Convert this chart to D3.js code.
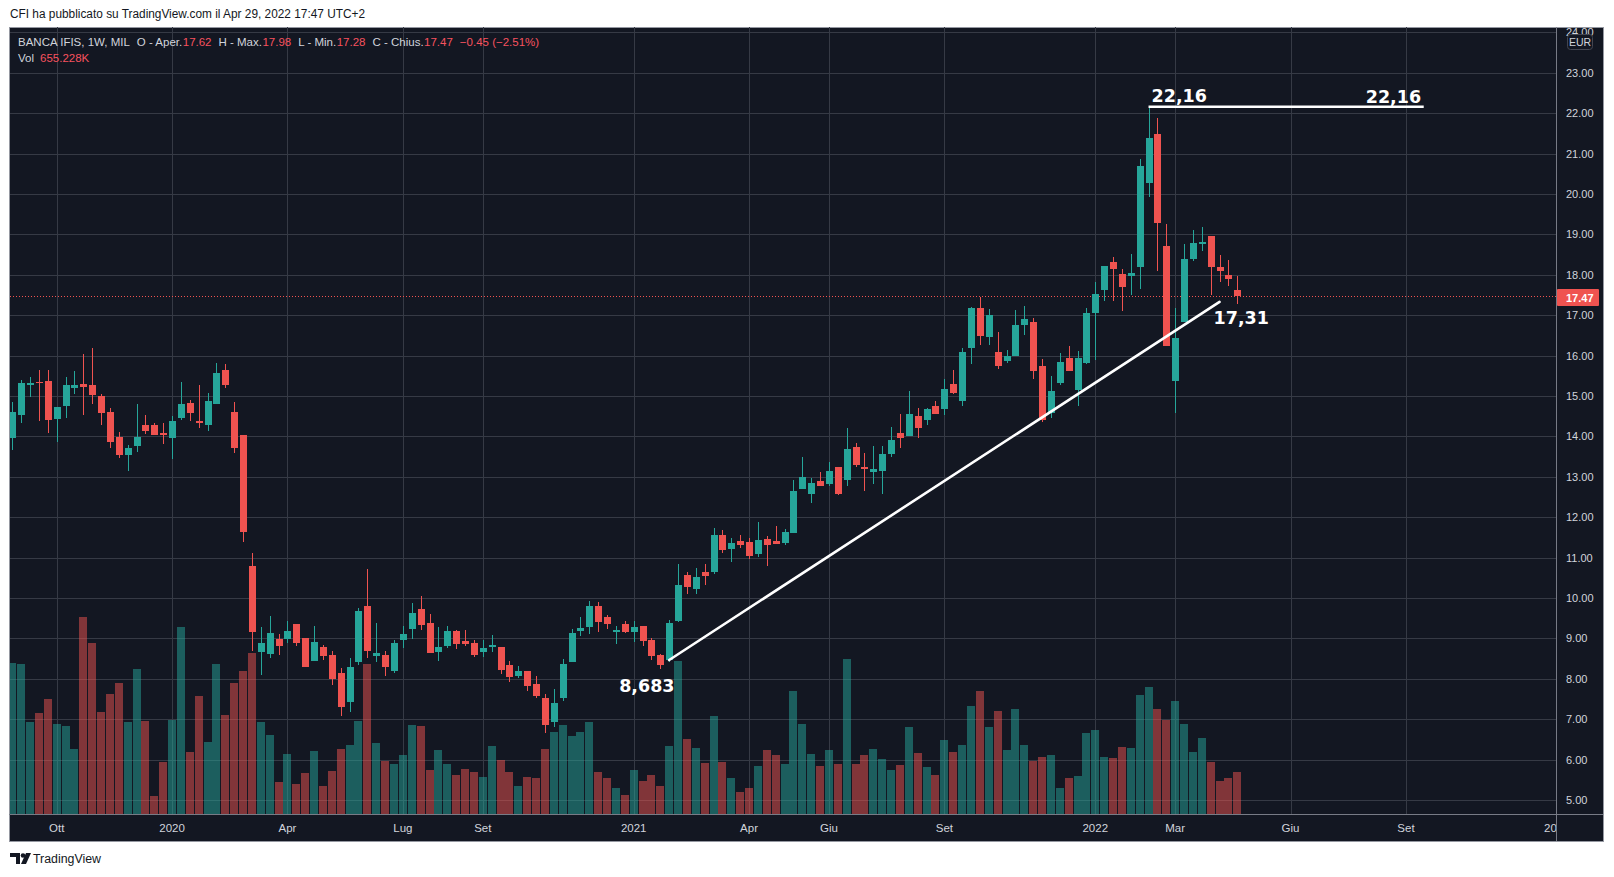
<!DOCTYPE html>
<html>
<head>
<meta charset="utf-8">
<script src="https://cdn.jsdelivr.net/npm/d3@7"></script>
<style>
  body { margin: 0; background: #ffffff; }
  svg { display: block; }
</style>
</head>
<body>
<script>
// weekly candles, BANCA IFIS (MIL), Sep 2019 -> Apr 2022
const openP = [13.97,14.54,15.26,15.35,15.37,14.44,14.76,15.21,15.30,15.27,
  15.00,14.60,13.99,13.55,13.77,14.28,14.28,14.08,13.97,14.46,
  14.83,14.38,14.27,14.79,15.64,14.60,14.03,10.79,8.67,8.62,
  8.99,8.99,9.36,9.01,8.45,8.79,8.59,8.14,7.43,8.42,
  9.80,8.57,8.59,8.20,8.96,9.23,9.73,9.38,8.66,8.81,
  9.18,8.94,8.89,8.66,8.79,8.79,8.34,8.07,8.19,7.87,
  7.53,6.93,7.53,8.42,9.18,9.28,9.80,9.53,9.16,9.36,
  9.16,9.31,8.96,8.59,8.47,9.44,10.57,10.23,10.64,10.65,
  11.56,11.22,11.41,11.39,11.10,11.46,11.41,11.37,11.62,12.71,
  12.58,12.90,12.83,13.24,12.93,13.74,13.24,13.13,13.15,13.57,
  14.08,14.02,14.51,14.41,14.75,14.69,15.30,14.88,16.20,17.18,
  16.47,16.09,15.87,16.00,16.76,16.83,15.74,14.57,15.33,15.94,
  15.16,15.82,17.06,17.63,18.32,18.02,17.98,18.20,20.28,21.49,
  18.71,15.38,16.84,18.40,18.77,18.96,18.19,17.99,17.62]

const highP = [14.85,15.40,15.47,15.64,15.64,14.73,15.47,15.62,16.04,16.19,
  15.05,14.70,14.11,13.79,14.80,14.53,14.33,14.33,14.50,15.35,
  14.90,15.27,15.07,15.82,15.79,14.85,14.03,11.11,9.28,9.55,
  9.11,9.43,9.36,9.01,9.31,8.84,8.69,8.27,8.51,9.75,
  10.72,9.38,8.69,8.96,9.31,9.88,10.05,9.60,9.28,9.31,
  9.21,9.21,8.96,8.96,9.09,8.79,8.44,8.32,8.19,8.07,
  7.62,7.75,8.49,9.23,9.53,9.93,9.90,9.58,9.31,9.43,
  9.43,9.31,9.01,8.61,9.45,10.84,10.64,10.74,10.84,11.73,
  11.68,11.49,11.56,11.49,11.88,11.53,11.78,11.71,12.92,13.49,
  12.97,13.12,13.37,13.24,14.21,13.84,13.59,13.76,13.76,14.23,
  14.55,15.12,14.70,14.70,14.88,15.42,15.64,16.19,17.20,17.45,
  17.15,16.58,16.14,17.13,17.23,16.93,15.92,15.49,16.06,16.24,
  16.11,17.18,17.82,18.22,18.44,18.14,18.52,20.87,22.16,21.88,
  19.26,17.18,18.76,19.11,19.18,18.96,18.49,18.37,17.98]

const lowP = [13.67,14.34,14.98,14.39,14.09,13.87,14.46,15.06,14.54,14.81,
  14.29,13.72,13.47,13.15,13.62,14.07,14.04,13.82,13.45,14.41,
  14.39,14.22,14.14,14.79,15.21,13.60,11.39,8.70,8.10,8.52,
  8.60,8.89,8.81,8.29,8.45,8.47,7.85,7.09,7.19,8.33,
  8.52,8.42,8.08,8.15,8.77,8.99,9.21,8.64,8.44,8.76,
  8.74,8.81,8.54,8.54,8.66,8.12,7.92,8.02,7.70,7.53,
  6.66,6.81,7.45,8.42,9.06,9.11,9.16,9.23,8.86,9.13,
  8.91,8.81,8.47,8.24,8.42,9.41,10.11,10.11,10.31,10.60,
  11.12,10.90,11.25,10.97,11.02,10.78,11.34,11.30,11.62,12.71,
  12.34,12.76,12.78,12.55,12.78,13.25,12.66,12.81,12.58,13.50,
  13.72,14.02,13.97,14.29,14.56,14.54,15.06,14.76,15.78,16.27,
  16.27,15.68,15.82,16.00,16.52,15.43,14.35,14.45,15.26,15.63,
  14.76,15.78,15.90,17.36,17.34,17.11,17.51,17.66,19.93,18.10,
  16.25,14.59,16.84,18.35,18.60,17.51,17.83,17.73,17.28]

const closeP = [14.60,15.32,15.32,15.31,14.41,14.73,15.27,15.27,15.23,15.03,
  14.59,13.87,13.55,13.71,13.99,14.14,14.04,14.04,14.38,14.80,
  14.59,14.32,14.88,15.57,15.26,13.72,11.64,9.17,8.89,9.13,
  8.80,9.18,8.89,8.29,8.91,8.57,7.99,7.29,8.29,9.68,
  8.70,8.64,8.30,8.89,9.11,9.63,9.33,8.64,8.79,9.18,
  8.86,8.86,8.59,8.76,8.84,8.22,8.04,8.19,7.82,7.58,
  6.86,7.40,8.37,9.13,9.26,9.80,9.41,9.36,9.21,9.16,
  9.28,8.94,8.56,8.34,9.38,10.32,10.26,10.52,10.55,11.56,
  11.20,11.36,11.30,11.05,11.44,11.30,11.34,11.63,12.65,13.00,
  12.85,12.78,13.14,12.57,13.69,13.28,13.20,13.19,13.57,13.91,
  13.97,14.55,14.22,14.68,14.56,15.17,15.08,16.09,17.18,16.49,
  17.00,15.75,15.99,16.76,16.91,15.63,14.40,15.12,15.84,15.63,
  15.94,17.05,17.52,18.22,18.15,17.71,18.04,20.69,21.39,19.27,
  16.25,16.43,18.39,18.79,18.81,18.20,18.10,17.90,17.47]

// volume in thousands
const volK = [2356,2340,1435,1576,1794,1404,1373,1014,3073,2668,
  1591,1872,2044,1435,2262,1451,281,811,1466,2917,
  967,1841,1123,2340,1544,2044,2231,2512,1435,1232,
  499,936,468,640,983,437,671,1014,1076,1451,
  2340,1108,827,780,920,1388,1373,686,998,780,
  608,702,655,577,1061,842,655,437,577,562,
  1014,1279,1388,1217,1279,1435,655,562,406,296,
  686,515,608,437,1061,2387,1170,1030,796,1529,
  811,562,343,406,749,998,920,780,1919,1404,
  936,749,998,780,2418,780,920,1014,858,686,
  764,1357,952,733,608,1154,967,1076,1685,1919,
  1357,1607,998,1638,1076,827,889,920,406,562,
  593,1264,1310,889,874,1045,1030,1856,1981,1638,
  1466,1763,1404,967,1186,811,515,562,655]

const priceTicks = [5,6,7,8,9,10,11,12,13,14,15,16,17,18,19,20,21,22,23,24]
const timeTickDates = ["2019-10-07","2020-01-06","2020-04-06","2020-07-06","2020-09-07","2021-01-04",
  "2021-04-05","2021-06-07","2021-09-06","2022-01-03","2022-03-07","2022-06-06","2022-09-05","2023-01-02"]
const timeTickLabels = ["Ott","2020","Apr","Lug","Set","2021","Apr","Giu","Set","2022","Mar","Giu","Set","2023"]

// drawings on the chart: resistance level and trend line (week index, price)
const levelHigh = 22.16
const levelRange = [128, 159]
const trendStart = [74, 8.465]
const trendEnd = [136, 17.33]

const weeks = d3.timeMonday.range(new Date(2019, 8, 2), new Date(2022, 3, 26))
const parseDay = d3.timeParse("%Y-%m-%d")

const bg = "#131722", up = "#26a69a", down = "#ef5350"
const upVol = "rgba(38,166,154,0.5)", downVol = "rgba(239,83,80,0.5)"
const gridCol = "#363a45", textCol = "#d1d4dc", redText = "#f7525f"
const font = "'Liberation Sans', Arial, sans-serif"

const W = 1614, H = 877
const plot = {left: 10, top: 27, right: 1556, bottom: 814}
const frame = {left: 9, top: 27, right: 1603, bottom: 841}

const svg = d3.select("body").append("svg")
  .attr("width", W)
  .attr("height", H)
  .attr("viewBox", `0 0 ${W} ${H}`)

const defs = svg.append("defs")
defs.append("clipPath").attr("id", "clip-plot")
  .append("rect")
  .attr("x", plot.left).attr("y", plot.top)
  .attr("width", plot.right - plot.left).attr("height", plot.bottom - plot.top)
defs.append("clipPath").attr("id", "clip-price")
  .append("rect")
  .attr("x", plot.right).attr("y", frame.top)
  .attr("width", frame.right - plot.right).attr("height", plot.bottom - frame.top)
defs.append("clipPath").attr("id", "clip-time")
  .append("rect")
  .attr("x", plot.left).attr("y", plot.bottom)
  .attr("width", plot.right - plot.left).attr("height", frame.bottom - plot.bottom)

// scales
const x = d3.scaleTime()
  .domain([weeks[0], weeks[weeks.length - 1]])
  .range([12.3, 1237.3])
const y = d3.scaleLinear()
  .domain([5, 24])
  .range([800, 32.4])
const yVol = d3.scaleLinear()
  .domain([0, 3200])
  .range([plot.bottom, plot.bottom - 3200 / 15.6])

const cx = i => Math.round(x(weeks[i]))

// publish line on top
svg.append("text")
  .attr("x", 10).attr("y", 18)
  .attr("textLength", 355).attr("lengthAdjust", "spacingAndGlyphs")
  .style("font-family", font).style("font-size", "12.5px")
  .style("fill", "#131722")
  .text("CFI ha pubblicato su TradingView.com il Apr 29, 2022 17:47 UTC+2")

// dark chart frame
svg.append("rect")
  .attr("x", frame.left + 0.5).attr("y", frame.top + 0.5)
  .attr("width", frame.right - frame.left).attr("height", frame.bottom - frame.top)
  .attr("fill", bg)
  .attr("stroke", "#9598a1").attr("stroke-width", 1)

const gPlot = svg.append("g").attr("clip-path", "url(#clip-plot)")

// grid
gPlot.selectAll(".hgrid")
  .data(priceTicks)
  .join("line")
  .attr("x1", plot.left).attr("x2", plot.right)
  .attr("y1", d => Math.round(y(d)) + 0.5)
  .attr("y2", d => Math.round(y(d)) + 0.5)
  .attr("stroke", gridCol).attr("stroke-width", 1)

gPlot.selectAll(".vgrid")
  .data(timeTickDates)
  .join("line")
  .attr("x1", d => Math.round(x(parseDay(d))) + 0.5)
  .attr("x2", d => Math.round(x(parseDay(d))) + 0.5)
  .attr("y1", plot.top).attr("y2", plot.bottom)
  .attr("stroke", gridCol).attr("stroke-width", 1)

// volume bars behind the candles
const idx = d3.range(weeks.length)
gPlot.selectAll(".vol")
  .data(idx)
  .join("rect")
  .attr("x", i => cx(i) - 4)
  .attr("width", 8)
  .attr("y", i => Math.round(yVol(volK[i])))
  .attr("height", i => plot.bottom - Math.round(yVol(volK[i])))
  .attr("fill", i => closeP[i] >= openP[i] ? upVol : downVol)

// last price dotted line
const lastP = closeP[closeP.length - 1]
gPlot.append("line")
  .attr("x1", plot.left).attr("x2", plot.right)
  .attr("y1", Math.round(y(lastP)) + 0.5).attr("y2", Math.round(y(lastP)) + 0.5)
  .attr("stroke", down).attr("stroke-width", 1)
  .attr("stroke-dasharray", "1,2")

// wicks
gPlot.selectAll(".wick")
  .data(idx)
  .join("rect")
  .attr("x", i => cx(i))
  .attr("width", 1)
  .attr("y", i => Math.round(y(highP[i])))
  .attr("height", i => Math.max(1, Math.round(y(lowP[i])) - Math.round(y(highP[i]))))
  .attr("fill", i => closeP[i] >= openP[i] ? up : down)

// bodies
gPlot.selectAll(".body")
  .data(idx)
  .join("rect")
  .attr("x", i => cx(i) - 3)
  .attr("width", 7)
  .attr("y", i => Math.round(y(Math.max(openP[i], closeP[i]))))
  .attr("height", i => Math.max(1, Math.round(y(Math.min(openP[i], closeP[i]))) - Math.round(y(Math.max(openP[i], closeP[i])))))
  .attr("fill", i => closeP[i] >= openP[i] ? up : down)

// drawings
const annoFont = "'DejaVu Sans', sans-serif"
gPlot.append("line")
  .attr("x1", x(weeks[trendStart[0]])).attr("y1", y(trendStart[1]))
  .attr("x2", x(weeks[trendEnd[0]])).attr("y2", y(trendEnd[1]))
  .attr("stroke", "#ffffff").attr("stroke-width", 2.6)
  .attr("stroke-linecap", "round")

const levelEndDate = d3.timeWeek.offset(weeks[0], levelRange[1])
gPlot.append("line")
  .attr("x1", x(weeks[levelRange[0]])).attr("y1", y(levelHigh))
  .attr("x2", x(levelEndDate)).attr("y2", y(levelHigh))
  .attr("stroke", "#ffffff").attr("stroke-width", 2.6)

const annoLabels = [
  {t: "22,16", x: x(weeks[levelRange[0]]) + 3, y: y(levelHigh) - 5},
  {t: "22,16", x: x(levelEndDate) - 58, y: y(levelHigh) - 4},
  {t: "17,31", x: x(weeks[trendEnd[0]]) - 6, y: y(trendEnd[1]) + 22},
  {t: "8,683", x: x(weeks[trendStart[0]]) - 50, y: y(trendStart[1]) + 32}
]
gPlot.selectAll(".anno")
  .data(annoLabels)
  .join("text")
  .attr("x", d => d.x).attr("y", d => d.y)
  .style("font-family", annoFont).style("font-weight", "bold")
  .style("font-size", "17.5px")
  .style("fill", "#ffffff")
  .text(d => d.t)

// separators for the axes
svg.append("line")
  .attr("x1", plot.right + 0.5).attr("x2", plot.right + 0.5)
  .attr("y1", frame.top).attr("y2", frame.bottom)
  .attr("stroke", "#787b86")
svg.append("line")
  .attr("x1", frame.left).attr("x2", frame.right)
  .attr("y1", plot.bottom + 0.5).attr("y2", plot.bottom + 0.5)
  .attr("stroke", "#787b86")

// price axis labels
const gPrice = svg.append("g").attr("clip-path", "url(#clip-price)")
gPrice.selectAll("text")
  .data(priceTicks)
  .join("text")
  .attr("x", 1566)
  .attr("y", d => y(d))
  .attr("dy", "0.36em")
  .style("font-family", font).style("font-size", "11px")
  .style("fill", textCol)
  .text(d => d3.format(".2f")(d))

// EUR box
gPrice.append("rect")
  .attr("x", 1567.5).attr("y", 34.5).attr("width", 25).attr("height", 15)
  .attr("rx", 3)
  .attr("fill", bg).attr("stroke", "#434651")
gPrice.append("text")
  .attr("x", 1580).attr("y", 42).attr("dy", "0.36em")
  .attr("text-anchor", "middle")
  .style("font-family", font).style("font-size", "10.5px")
  .style("fill", textCol)
  .text("EUR")

// last price tag
gPrice.append("rect")
  .attr("x", plot.right + 1).attr("y", Math.round(y(lastP)) - 7)
  .attr("width", 42).attr("height", 17)
  .attr("rx", 1)
  .attr("fill", down)
gPrice.append("text")
  .attr("x", 1566).attr("y", y(lastP) + 1.5).attr("dy", "0.36em")
  .style("font-family", font).style("font-size", "11px").style("font-weight", "bold")
  .style("fill", "#ffffff")
  .text(d3.format(".2f")(lastP))

// time axis labels
const gTime = svg.append("g").attr("clip-path", "url(#clip-time)")
gTime.selectAll("text")
  .data(timeTickDates)
  .join("text")
  .attr("x", d => x(parseDay(d)))
  .attr("y", 832)
  .attr("text-anchor", "middle")
  .style("font-family", font).style("font-size", "11.5px")
  .style("fill", textCol)
  .text((d, i) => timeTickLabels[i])

// legend on top left of the chart, pieces laid out one after another
const legendRows = [
  [["BANCA IFIS, 1W, MIL", textCol, 7], ["O - Aper.", textCol, 0.5], ["17.62", redText, 7],
   ["H - Max.", textCol, 0.5], ["17.98", redText, 7], ["L - Min.", textCol, 0.5],
   ["17.28", redText, 7], ["C - Chius.", textCol, 0.5], ["17.47", redText, 7],
   ["\u22120.45 (\u22122.51%)", redText, 0]],
  [["Vol", textCol, 6], ["655.228K", redText, 0]]
]
legendRows.forEach((row, r) => {
  let cursor = 18
  row.forEach(d => {
    const t = svg.append("text")
      .attr("x", cursor)
      .attr("y", 46 + r * 16)
      .style("font-family", font).style("font-size", "11.5px")
      .style("fill", d[1])
      .text(d[0])
    cursor += t.node().getComputedTextLength() + d[2]
  })
})

// TradingView footer
const logo = svg.append("g").attr("fill", "#131722")
logo.append("path").attr("d", "M10,853 h10 v11 h-4 v-7 h-6 z")
logo.append("circle").attr("cx", 23).attr("cy", 855.5).attr("r", 2.3)
logo.append("path").attr("d", "M26,853 h5 l-5,11 h-5 z")
svg.append("text")
  .attr("x", 33).attr("y", 863)
  .attr("textLength", 68).attr("lengthAdjust", "spacingAndGlyphs")
  .style("font-family", font).style("font-size", "12.5px")
  .style("fill", "#131722")
  .text("TradingView")
</script>
</body>
</html>
